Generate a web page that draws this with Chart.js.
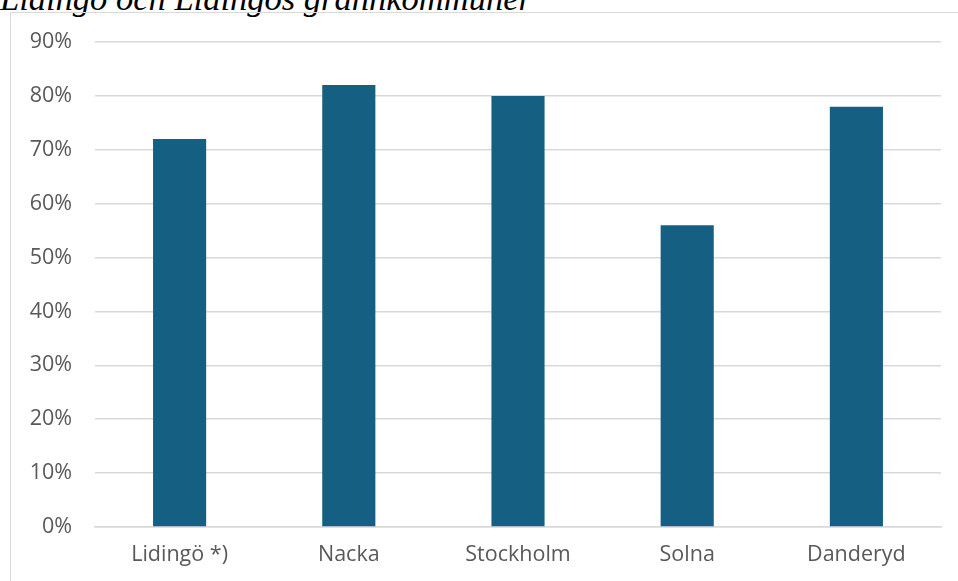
<!DOCTYPE html>
<html>
<head>
<meta charset="utf-8">
<script src="https://cdn.jsdelivr.net/npm/chart.js@4"></script>
<style>
  html, body { margin: 0; padding: 0; background: #fff; }
  #wrap { position: relative; width: 958px; height: 581px; overflow: hidden; }
  #title { position: absolute; left: 0; top: -21px; font-family: "Liberation Serif", "DejaVu Serif", serif; font-style: italic; font-size: 34.5px; color: #000; white-space: nowrap; }
  #frame { position: absolute; left: 10px; top: 12px; width: 960px; height: 600px; border: 1.5px solid #d9d9d9; box-sizing: border-box; }
  #chart { position: absolute; left: 0; top: 0; }
</style>
</head>
<body>
<div id="wrap">
  <div id="title">Lidingö och Lidingös grannkommuner</div>
  <div id="frame"></div>
  <canvas id="chart" width="958" height="581"></canvas>
</div>
<script>
// Data
const categories = ['Lidingö *)', 'Nacka', 'Stockholm', 'Solna', 'Danderyd'];
const shares = [72, 82, 80, 56, 78];
const yMax = 90;
const yStep = 10;

const tickFont = { family: 'Open Sans', size: 21.5 };

const ctx = document.getElementById('chart').getContext('2d');
const chart = new Chart(ctx, {
    type: 'bar',
    data: {
        labels: categories,
        datasets: [{ data: shares, backgroundColor: '#156082', borderWidth: 0, categoryPercentage: 1, barPercentage: 0.314 }]
    },
    options: {
        responsive: false, animation: false,
        layout: { padding: { top: 42, right: 17, left: 0, bottom: 0 } },
        plugins: { legend: { display: false }, tooltip: { enabled: false }, title: { display: false } },
        scales: {
            x: {
                grid: { display: false, drawTicks: false },
                border: { color: '#d9d9d9', width: 1.5 },
                ticks: { color: '#595959', font: tickFont, padding: 15 },
                afterFit: s => { s.height = 581 - 527; }
            },
            y: {
                min: 0, max: yMax,
                grid: { color: '#d9d9d9', lineWidth: 1.5, drawTicks: false },
                border: { display: false },
                ticks: { stepSize: yStep, color: '#595959', font: tickFont, padding: 23, callback: v => v + '%' },
                afterFit: s => { s.width = 95; }
            }
        }
    }
});
</script>
</body>
</html>
